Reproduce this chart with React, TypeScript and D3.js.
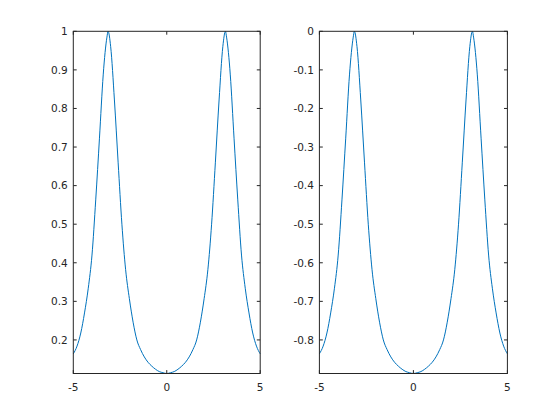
import React from "react";
import * as d3 from "d3";

// x samples (the peaks sit at +-pi)
const xValues = [
    -5, -4.8, -4.6, -4.4, -4.2, -4, -3.8, -3.6, -3.4, -3.2, -3.14, -3, -2.8, -2.6, -2.4, -2.2, -2, -1.8, -1.6, -1.4,
    -1.2, -1, -0.8, -0.6, -0.4, -0.2, 0, 0.2, 0.4, 0.6, 0.8, 1, 1.2, 1.4, 1.6, 1.8, 2, 2.2, 2.4, 2.6, 2.8, 3, 3.14,
    3.2, 3.4, 3.6, 3.8, 4, 4.2, 4.4, 4.6, 4.8, 5,
];

// left subplot values
const leftValues = [
    0.164, 0.184, 0.218, 0.27, 0.334, 0.42, 0.563, 0.723, 0.887, 0.985, 1, 0.96, 0.822, 0.659, 0.5, 0.382, 0.307,
    0.246, 0.2, 0.175, 0.156, 0.142, 0.132, 0.124, 0.118, 0.115, 0.113, 0.115, 0.118, 0.124, 0.132, 0.142, 0.156,
    0.175, 0.2, 0.246, 0.307, 0.382, 0.5, 0.659, 0.822, 0.96, 1, 0.985, 0.887, 0.723, 0.563, 0.42, 0.334, 0.27,
    0.218, 0.184, 0.164,
];

// right subplot values
const rightValues = [
    -0.836, -0.816, -0.782, -0.73, -0.666, -0.58, -0.437, -0.277, -0.113, -0.015, 0, -0.04, -0.178, -0.341, -0.5,
    -0.618, -0.693, -0.754, -0.8, -0.825, -0.844, -0.858, -0.868, -0.876, -0.882, -0.885, -0.887, -0.885, -0.882,
    -0.876, -0.868, -0.858, -0.844, -0.825, -0.8, -0.754, -0.693, -0.618, -0.5, -0.341, -0.178, -0.04, 0, -0.015,
    -0.113, -0.277, -0.437, -0.58, -0.666, -0.73, -0.782, -0.816, -0.836,
];

const xTicks = [-5, 0, 5];

const width = 560;
const height = 420;
const axisColor = "#262626";
const lineColor = "#0072BD";
const fontFamily = "'DejaVu Sans', sans-serif";
const fontSize = 10.5;
const tickLen = 3.4;

type PanelProps = {
    left: number;
    right: number;
    top: number;
    bottom: number;
    values: number[];
};

const fmt = (v: number) => String(+v.toFixed(1));

const Panel = ({ left, right, top, bottom, values }: PanelProps) => {
    const x = d3.scaleLinear().domain([-5, 5]).range([left, right]);
    const y = d3
        .scaleLinear()
        .domain(d3.extent(values) as [number, number])
        .range([bottom, top]);
    const yTicks = y.ticks(10);

    const line = d3
        .line<number>()
        .x((d, i) => x(xValues[i]))
        .y((d) => y(d))
        .curve(d3.curveMonotoneX);

    return (
        <g>
            <path d={line(values) || ""} fill="none" stroke={lineColor} strokeWidth={1} strokeLinejoin="round" />
            <rect
                x={left}
                y={top}
                width={right - left}
                height={bottom - top}
                fill="none"
                stroke={axisColor}
                strokeWidth={1}
            />
            {/* x ticks, mirrored on top */}
            {xTicks.map((t) => (
                <g key={"x" + t}>
                    <line x1={x(t)} x2={x(t)} y1={bottom} y2={bottom - tickLen} stroke={axisColor} />
                    <line x1={x(t)} x2={x(t)} y1={top} y2={top + tickLen} stroke={axisColor} />
                    <text
                        x={x(t)}
                        y={bottom + 17.3}
                        textAnchor="middle"
                        fontFamily={fontFamily}
                        fontSize={fontSize}
                        fill={axisColor}
                    >
                        {fmt(t)}
                    </text>
                </g>
            ))}
            {/* y ticks, mirrored on right */}
            {yTicks.map((t) => (
                <g key={"y" + t}>
                    <line x1={left} x2={left + tickLen} y1={y(t)} y2={y(t)} stroke={axisColor} />
                    <line x1={right} x2={right - tickLen} y1={y(t)} y2={y(t)} stroke={axisColor} />
                    <text
                        x={left - 5.5}
                        y={y(t)}
                        dy="0.36em"
                        textAnchor="end"
                        fontFamily={fontFamily}
                        fontSize={fontSize}
                        fill={axisColor}
                    >
                        {fmt(t)}
                    </text>
                </g>
            ))}
        </g>
    );
};

const App = () => {
    return (
        <svg
            width={width}
            height={height}
            viewBox={`0 0 ${width} ${height}`}
            style={{ position: "absolute", left: 0, top: 0, background: "#fff" }}
        >
            <rect width={width} height={height} fill="#fff" />
            <Panel left={73.3} right={260.2} top={31.3} bottom={373.5} values={leftValues} />
            <Panel left={319.4} right={507.4} top={31.3} bottom={373.5} values={rightValues} />
        </svg>
    );
};

export default App;
